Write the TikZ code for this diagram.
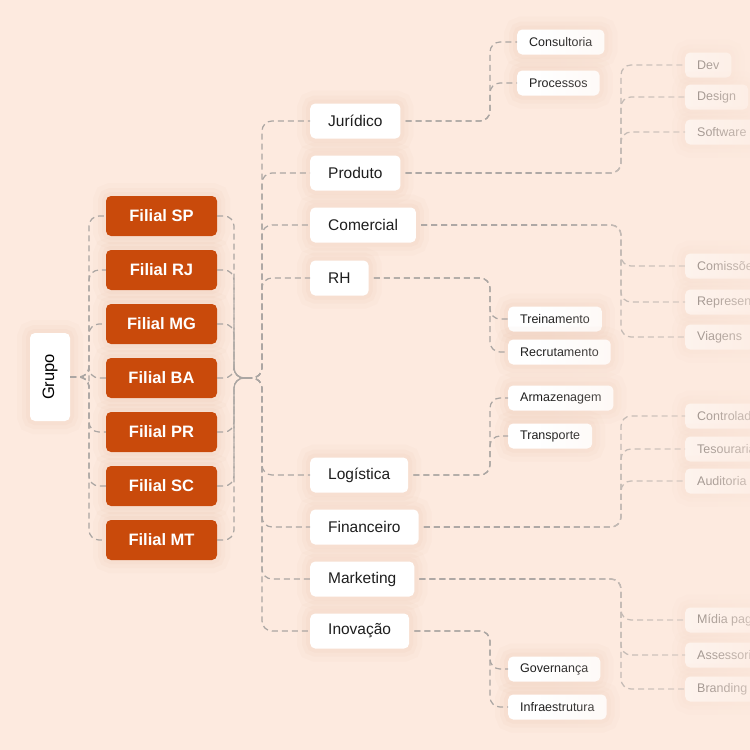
\documentclass[tikz,border=0pt]{standalone}
\usepackage{fontspec}
\setmainfont{Liberation Sans}
\usetikzlibrary{fadings}
\definecolor{bgc}{HTML}{FDEADF}
\definecolor{orng}{HTML}{C94A0B}
\definecolor{lnc}{HTML}{ABA6A3}
\definecolor{txt}{HTML}{1E1E1E}
\definecolor{shc}{HTML}{D9A083}
\tikzfading[name=rfade, left color=transparent!100, right color=transparent!10]
\begin{document}
\begin{tikzpicture}[x=1pt,y=-1pt,
  conn/.style={draw=lnc, line width=1.25pt, dash pattern=on 6pt off 4pt, rounded corners=10pt},
  gapstart/.style={shorten <=5pt},
  halo/.style={
    preaction={draw=shc, line width=26pt, draw opacity=0.04},
    preaction={draw=shc, line width=16pt, draw opacity=0.05},
    preaction={draw=shc, line width=8pt, draw opacity=0.06}},
  card/.style={fill=white, rounded corners=5pt, halo},
  filial/.style={card, fill=orng, text=white, font=\fontsize{16.5}{18}\selectfont\bfseries, minimum width=111pt, minimum height=40pt, inner sep=0pt},
  dept/.style={card, anchor=west, text=txt, font=\fontsize{15.5}{17}\selectfont, inner xsep=18pt, inner ysep=0pt, minimum height=35pt},
  sub/.style={card, anchor=west, text=txt, font=\fontsize{12.5}{14}\selectfont, inner xsep=12pt, inner ysep=0pt, minimum height=25pt},
]
\clip (0,0) rectangle (750,750);
\fill[bgc] (0,0) rectangle (750,750);

% root
\node[card, minimum width=40pt, minimum height=88pt, inner sep=0pt] (grupo) at (50,377) {};
\node[rotate=90, text=black, font=\fontsize{16.5}{18}\selectfont, inner sep=0pt] (grupolabel) at (grupo.center) {Grupo};

% filiais
\node[filial] (sp) at (161.5,216) {Filial SP};
\node[filial] (rj) at (161.5,270) {Filial RJ};
\node[filial] (mg) at (161.5,324) {Filial MG};
\node[filial] (ba) at (161.5,378) {Filial BA};
\node[filial] (pr) at (161.5,432) {Filial PR};
\node[filial] (sc) at (161.5,486) {Filial SC};
\node[filial] (mt) at (161.5,540) {Filial MT};

% departments
\node[dept] (jur) at (310,121) {Jurídico};
\node[dept] (prod) at (310,173) {Produto};
\node[dept] (com) at (310,225) {Comercial};
\node[dept] (rh) at (310,278) {RH};
\node[dept] (log) at (310,475) {Logística};
\node[dept] (fin) at (310,527) {Financeiro};
\node[dept] (mkt) at (310,579) {Marketing};
\node[dept] (inov) at (310,631) {Inovação};

% sub nodes
\node[sub] (cons) at (517,42) {Consultoria};
\node[sub] (proc) at (517,83) {Processos};
\node[sub] (trei) at (508,319) {Treinamento};
\node[sub] (recr) at (508,352) {Recrutamento};
\node[sub] (arm) at (508,398) {Armazenagem};
\node[sub] (trans) at (508,436) {Transporte};
\node[sub] (gov) at (508,669) {Governança};
\node[sub] (infra) at (508,707) {Infraestrutura};

% far nodes
\node[sub] (dev) at (685,65) {Dev};
\node[sub] (design) at (685,97) {Design};
\node[sub] (soft) at (685,132) {Software};
\node[sub] (comis) at (685,266) {Comissões};
\node[sub] (repr) at (685,302) {Representação};
\node[sub] (viag) at (685,337) {Viagens};
\node[sub] (contr) at (685,416) {Controladoria};
\node[sub] (tes) at (685,449) {Tesouraria};
\node[sub] (aud) at (685,481) {Auditoria};
\node[sub] (midia) at (685,620) {Mídia paga};
\node[sub] (asses) at (685,655) {Assessoria};
\node[sub] (brand) at (685,689) {Branding};

% trunk coordinates
\coordinate (tG) at (89,0);
\coordinate (tF) at (234,0);
\coordinate (hub) at (246,378);
\coordinate (tD) at (262,0);
\coordinate (tS) at (490,0);
\coordinate (tR) at (621,0);

\foreach \f in {sp,rj,mg,ba,pr,sc,mt}{
  \draw[conn] (grupo.east) -- (grupo.east -| tG) -- (tG |- \f.west) -- (\f.west);
  \draw[conn] (\f.east) -- (\f.east -| tF) -- (tF |- hub) -- (hub);
}
\foreach \d in {jur,prod,com,rh,log,fin,mkt,inov}{
  \draw[conn] (hub) -- (tD |- hub) -- (tD |- \d.west) -- (\d.west);
}
\foreach \p/\c in {jur/cons,jur/proc,rh/trei,rh/recr,log/arm,log/trans,inov/gov,inov/infra}{
  \draw[conn, gapstart] (\p.east) -- (\p.east -| tS) -- (tS |- \c.west) -- (\c.west);
}
\foreach \p/\c in {prod/dev,prod/design,prod/soft,com/comis,com/repr,com/viag,fin/contr,fin/tes,fin/aud,mkt/midia,mkt/asses,mkt/brand}{
  \draw[conn, gapstart] (\p.east) -- (\p.east -| tR) -- (tR |- \c.west) -- (\c.west);
}

% fade on the right
\fill[bgc, path fading=rfade] (540,0) rectangle (780,750);
\end{tikzpicture}
\end{document}
